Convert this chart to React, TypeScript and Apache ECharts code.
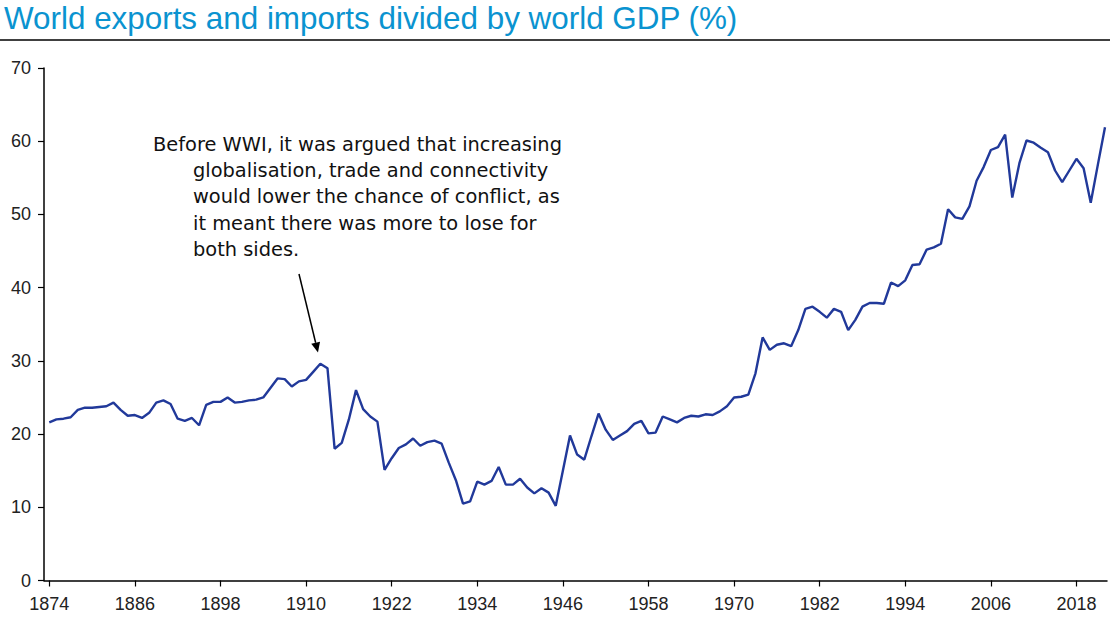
import React, { useEffect, useRef } from "react";
import * as echarts from "echarts";

const startYear = 1874;
const tradeShare = [
  21.6, 22.0, 22.1, 22.3, 23.3, 23.6, 23.6, 23.7, 23.8, 24.3,
  23.3, 22.5, 22.6, 22.2, 22.9, 24.3, 24.6, 24.1, 22.1, 21.8,
  22.2, 21.2, 24.0, 24.4, 24.4, 25.0, 24.3, 24.4, 24.6, 24.7,
  25.0, 26.3, 27.6, 27.5, 26.5, 27.2, 27.4, 28.5, 29.6, 29.0,
  18.0, 18.8, 22.0, 26.0, 23.4, 22.4, 21.7, 15.1, 16.7, 18.1,
  18.6, 19.4, 18.4, 18.9, 19.1, 18.7, 16.1, 13.7, 10.5, 10.8,
  13.5, 13.1, 13.6, 15.5, 13.1, 13.1, 13.9, 12.7, 11.9, 12.6,
  12.0, 10.2, 15.0, 19.8, 17.2, 16.5, 19.7, 22.8, 20.6, 19.2,
  19.8, 20.4, 21.4, 21.8, 20.1, 20.2, 22.4, 22.0, 21.6, 22.2,
  22.5, 22.4, 22.7, 22.6, 23.1, 23.8, 25.0, 25.1, 25.4, 28.3,
  33.2, 31.5, 32.2, 32.4, 32.0, 34.2, 37.1, 37.4, 36.7, 35.9,
  37.1, 36.7, 34.2, 35.6, 37.4, 37.9, 37.9, 37.8, 40.7, 40.2,
  41.0, 43.1, 43.2, 45.2, 45.5, 46.0, 50.7, 49.6, 49.4, 51.1,
  54.6, 56.5, 58.8, 59.2, 60.9, 52.3, 57.0, 60.1, 59.8, 59.1,
  58.5, 56.0, 54.4, 56.0, 57.6, 56.3, 51.6, 56.8, 61.9,
];
const xTickYears = [1874, 1886, 1898, 1910, 1922, 1934, 1946, 1958, 1970, 1982, 1994, 2006, 2018];

const titleText = "World exports and imports divided by world GDP (%)";
const noteLines = [
  "Before WWI, it was argued that increasing",
  "globalisation, trade and connectivity",
  "would lower the chance of conflict, as",
  "it meant there was more to lose for",
  "both sides.",
];

export default function App() {
  const ref = useRef<HTMLDivElement>(null);
  useEffect(() => {
    if (!ref.current) return;
    const chart = echarts.init(ref.current, null, { renderer: "svg" });
    const data = tradeShare.map((v, i) => [startYear + i, v]);

    const tip = [318, 352.5];
    const tail = [299, 274];
    const dx = tip[0] - tail[0];
    const dy = tip[1] - tail[1];
    const len = Math.sqrt(dx * dx + dy * dy);
    const ux = dx / len;
    const uy = dy / len;
    const headLen = 10;
    const headHalf = 4.5;
    const bx = tip[0] - ux * headLen;
    const by = tip[1] - uy * headLen;

    const noteGraphics = noteLines.map((t, i) => ({
      type: "text",
      left: i === 0 ? 153 : 193,
      top: 135 + i * 26.2,
      style: {
        text: t,
        fill: "#111",
        font: "19.4px 'DejaVu Sans', sans-serif",
      },
    }));

    chart.setOption({
      animation: false,
      backgroundColor: "#fff",
      grid: { left: 44, right: 3, top: 68, bottom: 38.5, containLabel: false },
      xAxis: {
        type: "value",
        min: 1873.26,
        max: 2022.28,
        axisLine: { show: true, lineStyle: { color: "#000", width: 1.5 } },
        axisTick: {
          show: true,
          length: 6,
          customValues: xTickYears,
          lineStyle: { color: "#000", width: 1.2 },
        },
        axisLabel: {
          customValues: xTickYears,
          formatter: (v: number) => String(v),
          color: "#222",
          fontSize: 18,
          fontFamily: "'Liberation Sans', Arial, sans-serif",
          margin: 14,
        },
        splitLine: { show: false },
      },
      yAxis: {
        type: "value",
        min: 0,
        max: 70,
        interval: 10,
        axisLine: { show: true, lineStyle: { color: "#000", width: 1.5 } },
        axisTick: { show: true, length: 6, lineStyle: { color: "#000", width: 1.2 } },
        axisLabel: {
          color: "#222",
          fontSize: 18,
          fontFamily: "'Liberation Sans', Arial, sans-serif",
          margin: 13,
        },
        splitLine: { show: false },
      },
      series: [
        {
          type: "line",
          data,
          showSymbol: false,
          symbol: "none",
          lineStyle: { color: "#21399a", width: 2.4 },
          z: 3,
        },
      ],
      graphic: [
        {
          type: "text",
          left: 4,
          top: 3,
          style: {
            text: titleText,
            fill: "#0a93d0",
            font: "31.4px 'Liberation Sans Narrow', 'Arial Narrow', sans-serif",
          },
        },
        {
          type: "line",
          shape: { x1: 0, y1: 40, x2: 1110, y2: 40 },
          style: { stroke: "#000", lineWidth: 1.5 },
        },
        ...noteGraphics,
        {
          type: "line",
          shape: { x1: tail[0], y1: tail[1], x2: bx, y2: by },
          style: { stroke: "#000", lineWidth: 1.5 },
        },
        {
          type: "polygon",
          shape: {
            points: [
              [tip[0], tip[1]],
              [bx - uy * headHalf, by + ux * headHalf],
              [bx + uy * headHalf, by - ux * headHalf],
            ],
          },
          style: { fill: "#000" },
        },
      ],
    });
    return () => chart.dispose();
  }, []);
  return (
    <div
      ref={ref}
      style={{ position: "fixed", left: 0, top: 0, width: 1110, height: 619, background: "#fff" }}
    />
  );
}
